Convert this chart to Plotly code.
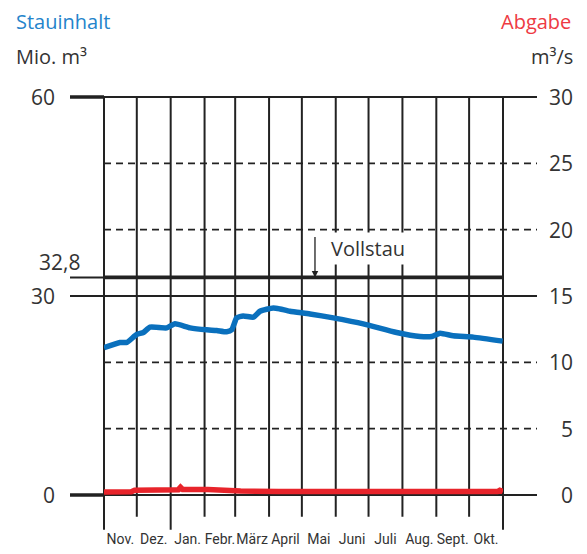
import plotly.graph_objects as go

# --- data -------------------------------------------------------------
months = ["Nov.", "Dez.", "Jan.", "Febr.", "März", "April", "Mai", "Juni",
          "Juli", "Aug.", "Sept.", "Okt."]
month_days = [30, 31, 31, 28, 31, 30, 31, 30, 31, 31, 30, 31]

# Stauinhalt (Mio. m³) over the hydrological year (day index)
storage_day = [0, 14.6, 20.8, 29.9, 36.0, 42.1, 57.4, 64.9, 78.7, 93.9, 103.1,
               112.2, 116.8, 121.4, 127.4, 136.6, 142.7, 154.9, 161.0, 170.1,
               188.4, 209.8, 237.2, 267.7, 289.1, 299.8, 307.4, 319.5, 337.8, 364.7]
storage_val = [22.2, 23.0, 23.0, 24.2, 24.5, 25.3, 25.2, 25.8, 25.2, 24.9, 24.8,
               24.6, 24.9, 26.7, 27.0, 26.8, 27.7, 28.2, 28.05, 27.7,
               27.3, 26.7, 25.8, 24.5, 23.9, 23.9, 24.4, 24.0, 23.8, 23.2]

# Abgabe (m³/s)
release_day = [0, 25, 28, 60, 68, 70, 72, 95, 110, 125, 160, 250, 330, 360, 362, 365]
release_val = [0.22, 0.24, 0.36, 0.38, 0.40, 0.58, 0.42, 0.42, 0.34, 0.30, 0.27,
               0.26, 0.26, 0.26, 0.36, 0.26]

full_storage = 32.8
left_ticks = [0, 30, 60]
right_ticks = [0, 5, 10, 15, 20, 25, 30]
dashed_levels = [10, 20, 40, 50]   # Mio. m³ (= 5, 10, 20, 25 m³/s)

# --- figure -----------------------------------------------------------
BLACK = "#222222"
TXT = "#333333"
BLUE = "#0a70bd"
RED = "#e8242b"
FONT = "Open Sans"

YMAX = 60.0
XMAX = float(sum(month_days))
bounds = [0]
for d in month_days:
    bounds.append(bounds[-1] + d)
mids = [(bounds[i] + bounds[i + 1]) / 2 for i in range(12)]

fig = go.Figure()
fig.add_trace(go.Scatter(x=storage_day, y=storage_val, mode="lines",
                         line=dict(color=BLUE, width=5.5, shape="spline", smoothing=0.5),
                         hoverinfo="skip", showlegend=False))
fig.add_trace(go.Scatter(x=release_day, y=release_val, mode="lines", yaxis="y2",
                         line=dict(color=RED, width=5.5), hoverinfo="skip", showlegend=False))

shapes = []
LEFT = -0.0852
RIGHT = 1.0852


def hline(v, x0, x1, w, dash=None):
    shapes.append(dict(type="line", xref="paper", yref="paper", x0=x0, x1=x1,
                       y0=v / YMAX, y1=v / YMAX, layer="below",
                       line=dict(color=BLACK, width=w, dash=dash or "solid")))


for v in dashed_levels:
    hline(v, 0, RIGHT, 1.6, "7px,5px")
hline(60, 0, RIGHT, 1.8)
hline(60, LEFT, 0, 3.5)
hline(30, LEFT, RIGHT, 1.8)
hline(0, 0, RIGHT, 1.8)
hline(0, LEFT, 0, 3.5)
hline(full_storage, LEFT, 0, 2)
hline(full_storage, 0, 1, 3.8)

for i, b in enumerate(bounds):
    long = b in (0, 61, 365)
    shapes.append(dict(type="line", xref="paper", yref="paper",
                       x0=b / XMAX, x1=b / XMAX, y0=1, y1=-0.0872 if long else -0.0545,
                       layer="below", line=dict(color=BLACK, width=2)))

annotations = []
for v in left_ticks:
    annotations.append(dict(xref="paper", yref="y", x=-0.1178, y=v, text=str(v),
                            xanchor="right", yanchor="middle", showarrow=False,
                            font=dict(family=FONT, size=21, color=TXT)))
for v in right_ticks:
    annotations.append(dict(xref="paper", yref="y2", x=1.1805, y=v, text=str(v),
                            xanchor="right", yanchor="middle", showarrow=False,
                            font=dict(family=FONT, size=21, color=TXT)))

annotations += [
    dict(xref="paper", yref="paper", x=-0.0551, y=0.586, text="32,8", xanchor="right",
         yanchor="middle", showarrow=False, font=dict(family=FONT, size=21, color=TXT)),
    dict(xref="paper", yref="paper", x=-0.2256, y=1.189, text="Stauinhalt", xanchor="left",
         yanchor="middle", showarrow=False, font=dict(family=FONT, size=20, color="#2484cb")),
    dict(xref="paper", yref="paper", x=-0.2256, y=1.101, text="Mio. m³", xanchor="left",
         yanchor="middle", showarrow=False, font=dict(family=FONT, size=20, color=TXT)),
    dict(xref="paper", yref="paper", x=1.1754, y=1.189, text="Abgabe", xanchor="right",
         yanchor="middle", showarrow=False, font=dict(family=FONT, size=20, color="#ee3a43")),
    dict(xref="paper", yref="paper", x=1.1805, y=1.101, text="m³/s", xanchor="right",
         yanchor="middle", showarrow=False, font=dict(family=FONT, size=20, color=TXT)),
    dict(xref="paper", yref="paper", x=0.562, y=0.619, text="Vollstau", xanchor="left",
         yanchor="middle", showarrow=False, bgcolor="white", borderpad=2,
         font=dict(family=FONT, size=20, color=TXT)),
    dict(xref="x", yref="y", x=193, y=full_storage, ax=0, ay=-42, text="",
         showarrow=True, arrowhead=2, arrowsize=1, arrowwidth=1.3, arrowcolor=BLACK),
]

fig.update_layout(
    width=587, height=554,
    margin=dict(l=104, r=84, t=97, b=59, autoexpand=False),
    paper_bgcolor="white", plot_bgcolor="rgba(0,0,0,0)",
    showlegend=False,
    xaxis=dict(range=[0, XMAX], tickvals=mids, ticktext=months, ticks="",
               tickangle=0, automargin=False,
               showgrid=False, zeroline=False, showline=False, fixedrange=True,
               ticklabelstandoff=34,
               tickfont=dict(family="Roboto", size=14, color=TXT)),
    yaxis=dict(range=[0, YMAX], showticklabels=False, showgrid=False, zeroline=False,
               showline=False, ticks="", automargin=False),
    yaxis2=dict(range=[0, 30], overlaying="y", side="right", showticklabels=False,
                showgrid=False, zeroline=False, showline=False, ticks="", automargin=False),
    shapes=shapes,
    annotations=annotations,
)

fig.write_html("out.html", config={"displayModeBar": False, "staticPlot": True},
               post_script="document.body.style.margin='0';document.body.style.padding='0';")
